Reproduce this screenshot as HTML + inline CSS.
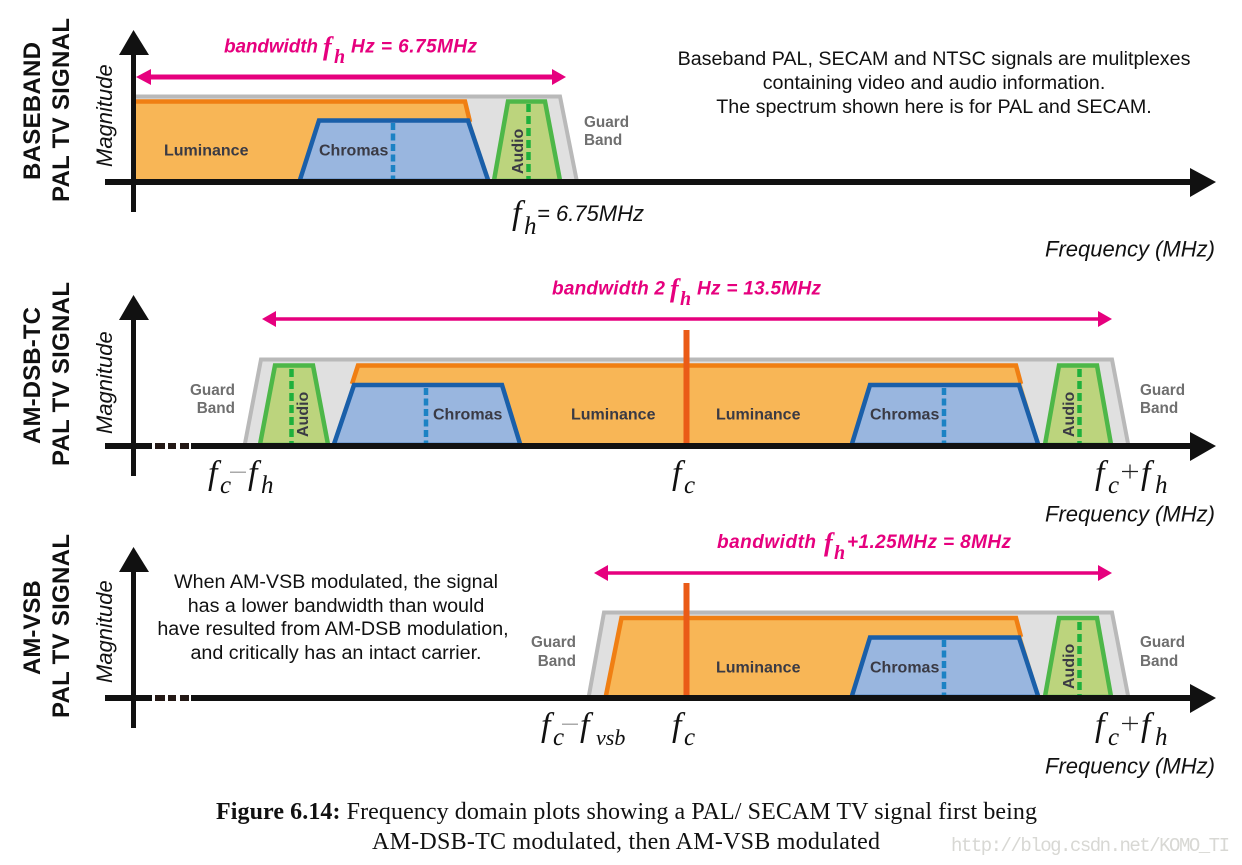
<!DOCTYPE html>
<html><head><meta charset="utf-8"><style>
html,body{margin:0;padding:0;background:#fff}
svg{display:block}
.s{font-family:"Liberation Sans",sans-serif}
.i{font-family:"Liberation Sans",sans-serif;font-style:italic}
.m{font-family:"Liberation Serif",serif;font-style:italic;fill:#111}
.b{font-family:"Liberation Sans",sans-serif;font-weight:bold;fill:#3a3a44;font-size:16px}
.g{font-family:"Liberation Sans",sans-serif;font-weight:bold;fill:#6f6f6f;font-size:15.300px}
.p{font-family:"Liberation Sans",sans-serif;font-style:italic;font-weight:bold;fill:#e6007e;font-size:19px}
.pm{font-family:"Liberation Serif",serif;font-style:italic;font-weight:bold;fill:#e6007e}
.t{font-family:"Liberation Sans",sans-serif;fill:#111;font-size:19.700px}
.h{font-family:"Liberation Sans",sans-serif;font-weight:bold;fill:#111;font-size:24px}
.f{font-family:"Liberation Sans",sans-serif;font-style:italic;fill:#111;font-size:22px}
.c{font-family:"Liberation Serif",serif;fill:#111;font-size:24px}
</style></head><body>
<svg width="1242" height="865" viewBox="0 0 1242 865" xmlns="http://www.w3.org/2000/svg">
<rect width="1242" height="865" fill="#fff"/>

<!-- PANEL 1 -->
<polygon points="136,95 561,95 578,180 136,180" fill="#e0e0e0"/>
<polyline points="136,96.500 560,96.500 577,182" fill="none" stroke="#b9b9b9" stroke-width="4"/>
<polygon points="136,101 466,101 472,125 490,180 136,180" fill="#f8b656"/>
<polyline points="136,101.500 465,101.500 470,122" fill="none" stroke="#f07f13" stroke-width="4.500"/>
<polygon points="299.600,181 319,120.500 468,120.500 488.400,181" fill="#99b6df" stroke="#1a5fa9" stroke-width="4.500"/>
<line x1="393" y1="123" x2="393" y2="179" stroke="#1b82c4" stroke-width="4.500" stroke-dasharray="7 3.500"/>
<polygon points="493.900,181 508,101.500 545,101.500 560.100,181" fill="#bcd47d" stroke="#4db748" stroke-width="4.500"/>
<line x1="528.500" y1="104" x2="528.500" y2="179" stroke="#1fb03c" stroke-width="4.500" stroke-dasharray="8 4"/>
<text class="b" x="164" y="155.500">Luminance</text>
<text class="b" x="319" y="155.500">Chromas</text>
<text class="b" transform="translate(523,174) rotate(-90)">Audio</text>
<text class="g" x="584" y="127">Guard</text>
<text class="g" x="584" y="145">Band</text>

<rect x="105" y="179" width="1086" height="6" fill="#111"/>
<polygon points="1190,168 1216,182 1190,197" fill="#111"/>
<rect x="131" y="53" width="5" height="159" fill="#111"/>
<polygon points="119,55 133.500,30 149,55" fill="#111"/>

<line x1="146" y1="77" x2="556" y2="77" stroke="#e6007e" stroke-width="5"/>
<polygon points="136,77 151,69 151,85" fill="#e6007e"/>
<polygon points="566,77 552,69 552,85" fill="#e6007e"/>
<text class="p" x="224" y="52.500" textLength="94">bandwidth</text>
<text class="pm" x="323" y="55" font-size="26">f</text>
<text class="pm" x="334" y="63" font-size="20">h</text>
<text class="p" x="351" y="52.500" textLength="126">Hz = 6.75MHz</text>

<text class="m" x="512" y="224" font-size="34">f</text>
<text class="m" x="524" y="234" font-size="25">h</text>
<text class="i" x="537" y="221" font-size="22" fill="#111">= 6.75MHz</text>
<text class="f" x="1045" y="256.500">Frequency (MHz)</text>

<text class="t" x="934" y="65" text-anchor="middle">Baseband PAL, SECAM and NTSC signals are mulitplexes</text>
<text class="t" x="934" y="89" text-anchor="middle">containing video and audio information.</text>
<text class="t" x="934" y="113" text-anchor="middle">The spectrum shown here is for PAL and SECAM.</text>

<text class="h" transform="translate(40,180) rotate(-90)" textLength="138">BASEBAND</text>
<text class="h" transform="translate(69,202) rotate(-90)" textLength="184">PAL TV SIGNAL</text>
<text class="i" transform="translate(112,167) rotate(-90)" font-size="22" fill="#111">Magnitude</text>

<!-- PANEL 2 -->
<polygon points="243,444 260,358 1113,358 1129,444" fill="#e0e0e0"/>
<polyline points="244.500,446 261,359.500 1112,359.500 1128.500,446" fill="none" stroke="#b9b9b9" stroke-width="4"/>
<polygon points="335,444 358,365 1016,365 1040,444" fill="#f8b656"/>
<polyline points="352,384 358,365.500 1016,365.500 1021,384" fill="none" stroke="#f07f13" stroke-width="4.500"/>
<polygon points="333.700,445 354,385 502,385 520.400,445" fill="#99b6df" stroke="#1a5fa9" stroke-width="4.500"/>
<line x1="426" y1="388" x2="426" y2="443" stroke="#1b82c4" stroke-width="4.500" stroke-dasharray="7 3.500"/>
<polygon points="851.600,445 870,385 1019,385 1038.400,445" fill="#99b6df" stroke="#1a5fa9" stroke-width="4.500"/>
<line x1="944" y1="388" x2="944" y2="443" stroke="#1b82c4" stroke-width="4.500" stroke-dasharray="7 3.500"/>
<polygon points="259.900,445 275,365.500 313,365.500 328.100,445" fill="#bcd47d" stroke="#4db748" stroke-width="4.500"/>
<line x1="291.500" y1="369" x2="291.500" y2="443" stroke="#1fb03c" stroke-width="4.500" stroke-dasharray="8 4"/>
<polygon points="1044.900,445 1059,365.500 1097,365.500 1111.100,445" fill="#bcd47d" stroke="#4db748" stroke-width="4.500"/>
<line x1="1079.500" y1="369" x2="1079.500" y2="443" stroke="#1fb03c" stroke-width="4.500" stroke-dasharray="8 4"/>
<rect x="683.500" y="330" width="6" height="115" fill="#ea5b17"/>
<text class="b" x="433" y="419.500">Chromas</text>
<text class="b" x="870" y="419.500">Chromas</text>
<text class="b" x="571" y="419.500">Luminance</text>
<text class="b" x="716" y="419.500">Luminance</text>
<text class="b" transform="translate(308,437) rotate(-90)">Audio</text>
<text class="b" transform="translate(1074,437) rotate(-90)">Audio</text>
<text class="g" x="235" y="395" text-anchor="end">Guard</text>
<text class="g" x="235" y="413" text-anchor="end">Band</text>
<text class="g" x="1140" y="395">Guard</text>
<text class="g" x="1140" y="413">Band</text>

<rect x="105" y="443" width="47" height="6" fill="#111"/>
<rect x="155" y="443" width="10" height="6" fill="#231815"/>
<rect x="168" y="443" width="8" height="6" fill="#231815"/>
<rect x="180" y="443" width="9" height="6" fill="#231815"/>
<rect x="191" y="443" width="1000" height="6" fill="#111"/>
<polygon points="1190,432 1216,446 1190,461" fill="#111"/>
<rect x="131" y="318" width="5" height="158" fill="#111"/>
<polygon points="119,320 133.500,295 149,320" fill="#111"/>

<line x1="270" y1="319" x2="1104" y2="319" stroke="#e6007e" stroke-width="3.500"/>
<polygon points="262,319 276,311 276,327" fill="#e6007e"/>
<polygon points="1112,319 1098,311 1098,327" fill="#e6007e"/>
<text class="p" x="552" y="294.500" textLength="113">bandwidth 2</text>
<text class="pm" x="670" y="297" font-size="26">f</text>
<text class="pm" x="680" y="305" font-size="20">h</text>
<text class="p" x="697" y="294.500" textLength="124">Hz = 13.5MHz</text>

<text class="m" x="208" y="484" font-size="34">f</text>
<text class="m" x="220" y="493" font-size="25">c</text>
<rect x="230" y="471.500" width="16" height="1.500" fill="#aaa"/>
<text class="m" x="248" y="484" font-size="34">f</text>
<text class="m" x="261" y="493" font-size="25">h</text>
<text class="m" x="672" y="484" font-size="34">f</text>
<text class="m" x="684" y="493" font-size="25">c</text>
<text class="m" x="1095" y="484" font-size="34">f</text>
<text class="m" x="1108" y="493" font-size="25">c</text>
<path d="M1122 471.500H1138M1130 464.500V478.500" stroke="#222" stroke-width="1.200" fill="none"/>
<text class="m" x="1141" y="484" font-size="34">f</text>
<text class="m" x="1155" y="493" font-size="25">h</text>
<text class="f" x="1045" y="521.500">Frequency (MHz)</text>

<text class="h" transform="translate(40,444) rotate(-90)" textLength="137">AM-DSB-TC</text>
<text class="h" transform="translate(69,466) rotate(-90)" textLength="184">PAL TV SIGNAL</text>
<text class="i" transform="translate(112,434) rotate(-90)" font-size="22" fill="#111">Magnitude</text>

<!-- PANEL 3 -->
<polygon points="587,696 603,611 1113,611 1129,696" fill="#e0e0e0"/>
<polyline points="588.500,698 604,612.500 1112,612.500 1128.500,698" fill="none" stroke="#b9b9b9" stroke-width="4"/>
<polygon points="605,696 621,618 1016,618 1040,696" fill="#f8b656"/>
<polyline points="605.500,698 621.500,618 1016,618 1021,637" fill="none" stroke="#f07f13" stroke-width="4.500"/>
<polygon points="851.600,697 870,637.500 1019,637.500 1038.400,697" fill="#99b6df" stroke="#1a5fa9" stroke-width="4.500"/>
<line x1="944" y1="640" x2="944" y2="695" stroke="#1b82c4" stroke-width="4.500" stroke-dasharray="7 3.500"/>
<polygon points="1044.900,697 1059,618 1097,618 1111.100,697" fill="#bcd47d" stroke="#4db748" stroke-width="4.500"/>
<line x1="1079.500" y1="622" x2="1079.500" y2="695" stroke="#1fb03c" stroke-width="4.500" stroke-dasharray="8 4"/>
<rect x="683.500" y="583" width="6" height="114" fill="#ea5b17"/>
<text class="b" x="870" y="672.500">Chromas</text>
<text class="b" x="716" y="672.500">Luminance</text>
<text class="b" transform="translate(1074,689) rotate(-90)">Audio</text>
<text class="g" x="576" y="647" text-anchor="end">Guard</text>
<text class="g" x="576" y="666" text-anchor="end">Band</text>
<text class="g" x="1140" y="647">Guard</text>
<text class="g" x="1140" y="666">Band</text>

<rect x="105" y="695" width="47" height="6" fill="#111"/>
<rect x="155" y="695" width="10" height="6" fill="#231815"/>
<rect x="168" y="695" width="8" height="6" fill="#231815"/>
<rect x="180" y="695" width="9" height="6" fill="#231815"/>
<rect x="191" y="695" width="1000" height="6" fill="#111"/>
<polygon points="1190,684 1216,698 1190,713" fill="#111"/>
<rect x="131" y="570" width="5" height="158" fill="#111"/>
<polygon points="119,572 133.500,547 149,572" fill="#111"/>

<line x1="602" y1="573" x2="1104" y2="573" stroke="#e6007e" stroke-width="3.500"/>
<polygon points="594,573 608,565 608,581" fill="#e6007e"/>
<polygon points="1112,573 1098,565 1098,581" fill="#e6007e"/>
<text class="p" x="717" y="548" textLength="99">bandwidth</text>
<text class="pm" x="824" y="551" font-size="26">f</text>
<text class="pm" x="834" y="559" font-size="20">h</text>
<text class="p" x="847" y="548" textLength="164">+1.25MHz = 8MHz</text>

<text class="m" x="541" y="736" font-size="34">f</text>
<text class="m" x="553" y="745" font-size="25">c</text>
<rect x="562" y="723.500" width="16" height="1.500" fill="#aaa"/>
<text class="m" x="580" y="736" font-size="34">f</text>
<text class="m" x="596" y="745" font-size="22">vsb</text>
<text class="m" x="672" y="736" font-size="34">f</text>
<text class="m" x="684" y="745" font-size="25">c</text>
<text class="m" x="1095" y="736" font-size="34">f</text>
<text class="m" x="1108" y="745" font-size="25">c</text>
<path d="M1122 723.500H1138M1130 716.500V730.500" stroke="#222" stroke-width="1.200" fill="none"/>
<text class="m" x="1141" y="736" font-size="34">f</text>
<text class="m" x="1155" y="745" font-size="25">h</text>
<text class="f" x="1045" y="773.500">Frequency (MHz)</text>

<text class="t" x="336" y="588" text-anchor="middle">When AM-VSB modulated, the signal</text>
<text class="t" x="336" y="612" text-anchor="middle">has a lower bandwidth than would</text>
<text class="t" x="333" y="635" text-anchor="middle">have resulted from AM-DSB modulation,</text>
<text class="t" x="336" y="659" text-anchor="middle">and critically has an intact carrier.</text>

<text class="h" transform="translate(40,675) rotate(-90)">AM-VSB</text>
<text class="h" transform="translate(69,718) rotate(-90)" textLength="184">PAL TV SIGNAL</text>
<text class="i" transform="translate(112,683) rotate(-90)" font-size="22" fill="#111">Magnitude</text>

<!-- CAPTION -->
<text class="c" x="216" y="819" textLength="821"><tspan font-weight="bold">Figure 6.14:</tspan> Frequency domain plots showing a PAL/ SECAM TV signal first being</text>
<text class="c" x="372" y="849" textLength="508">AM-DSB-TC modulated, then AM-VSB modulated</text>
<text x="951" y="851" font-family="Liberation Mono, monospace" font-size="19" fill="#d8d8d4" textLength="279">http://blog.csdn.net/KOMO_TI</text>
</svg>
</body></html>
